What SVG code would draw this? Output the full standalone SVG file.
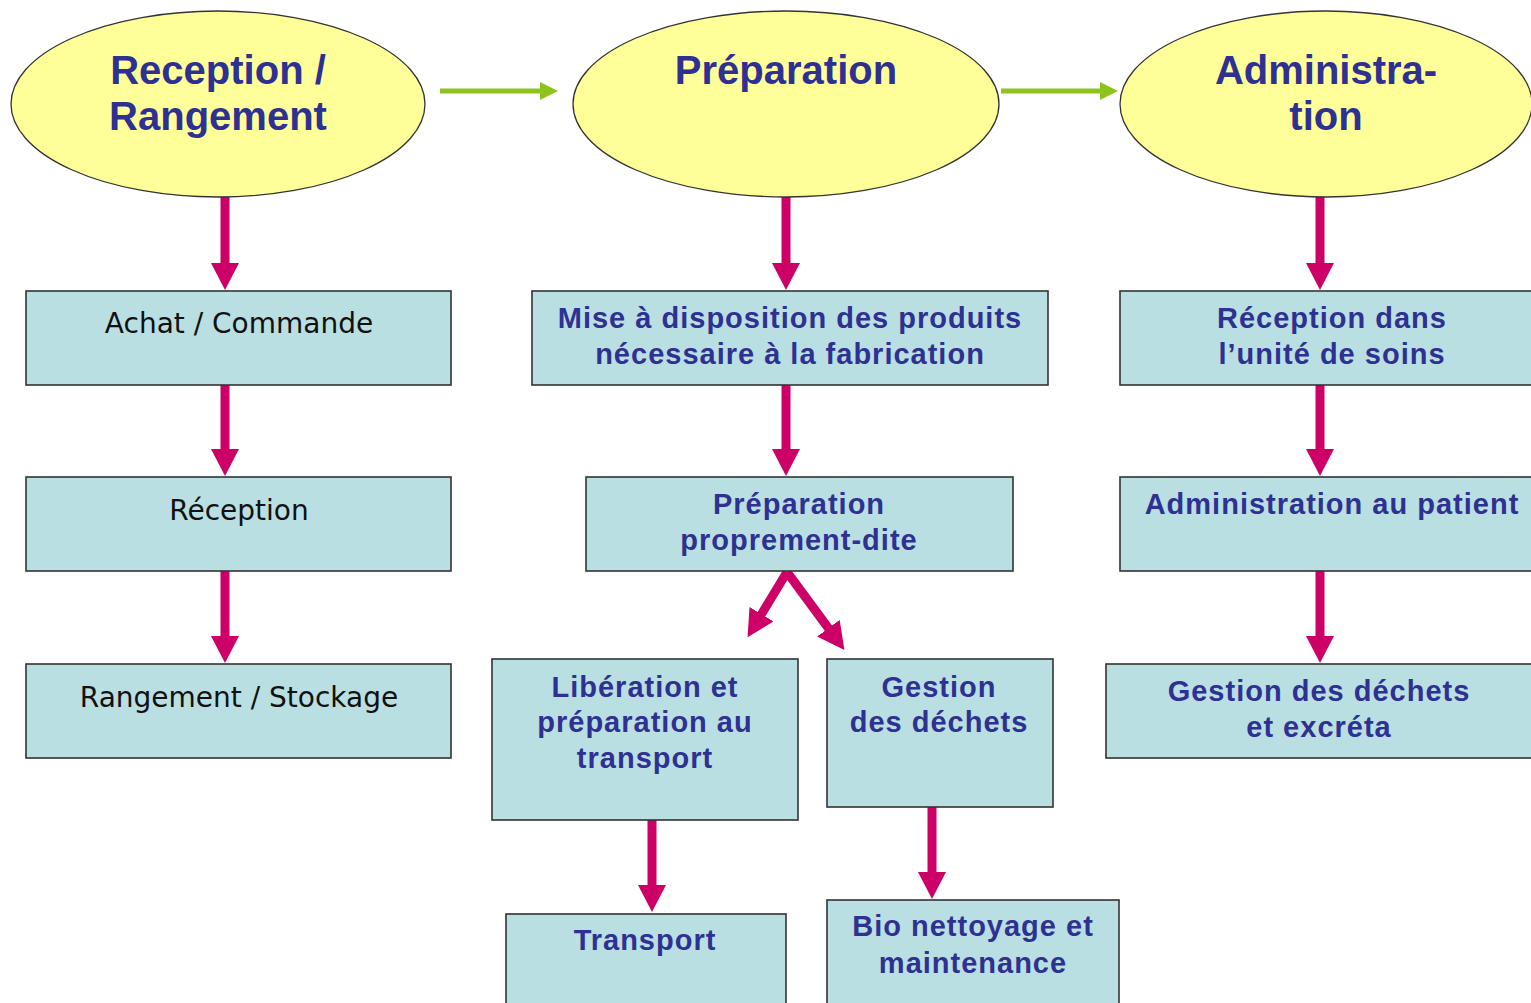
<svg xmlns="http://www.w3.org/2000/svg" width="1531" height="1003" viewBox="0 0 1531 1003">
<style>
.ell{fill:#ffff99;stroke:#333;stroke-width:1.3}
.box{fill:#b9dfe2;stroke:#333;stroke-width:1.6}
.t1{font-family:"Liberation Sans",Arial,sans-serif;font-weight:bold;font-size:40px;fill:#2e3192;text-anchor:middle}
.t2{font-family:"Liberation Sans",Arial,sans-serif;font-weight:bold;font-size:29px;letter-spacing:1px;fill:#2e3192;text-anchor:middle}
.t3{font-family:"DejaVu Sans",sans-serif;font-size:28px;fill:#111;text-anchor:middle}
.m{stroke:#cc0066;stroke-width:9;fill:none}
.g{stroke:#8cc41c;stroke-width:5;fill:none}
</style>
<defs>
<marker id="mh" markerUnits="userSpaceOnUse" markerWidth="30" markerHeight="30" refX="1" refY="14" orient="auto" viewBox="0 0 30 30">
<path d="M0,0 L27,14 L0,28 z" fill="#cc0066"/>
</marker>
<marker id="gh" markerUnits="userSpaceOnUse" markerWidth="20" markerHeight="20" refX="1" refY="9" orient="auto" viewBox="0 0 20 20">
<path d="M0,0 L18,9 L0,18 z" fill="#8cc41c"/>
</marker>
</defs>
<rect width="1531" height="1003" fill="#fff"/>
<g id="connectors">
<line class="g" x1="440" y1="91" x2="541" y2="91" marker-end="url(#gh)"/>
<line class="g" x1="1001" y1="91" x2="1101" y2="91" marker-end="url(#gh)"/>
<line class="m" x1="225" y1="197" x2="225" y2="264" marker-end="url(#mh)"/>
<line class="m" x1="225" y1="385" x2="225" y2="450" marker-end="url(#mh)"/>
<line class="m" x1="225" y1="571" x2="225" y2="637" marker-end="url(#mh)"/>
<line class="m" x1="786" y1="197" x2="786" y2="264" marker-end="url(#mh)"/>
<line class="m" x1="786" y1="385" x2="786" y2="450" marker-end="url(#mh)"/>
<line class="m" x1="787" y1="572" x2="761" y2="615" marker-end="url(#mh)"/>
<line class="m" x1="787" y1="572" x2="829" y2="629" marker-end="url(#mh)"/>
<line class="m" x1="652" y1="820" x2="652" y2="886" marker-end="url(#mh)"/>
<line class="m" x1="932" y1="807" x2="932" y2="873" marker-end="url(#mh)"/>
<line class="m" x1="1320" y1="197" x2="1320" y2="264" marker-end="url(#mh)"/>
<line class="m" x1="1320" y1="385" x2="1320" y2="450" marker-end="url(#mh)"/>
<line class="m" x1="1320" y1="571" x2="1320" y2="637" marker-end="url(#mh)"/>
</g>
<g id="n-reception-rangement">
<ellipse class="ell" cx="218" cy="104" rx="207" ry="93"/>
<text class="t1" x="218" y="84">Reception /</text>
<text class="t1" x="218" y="130">Rangement</text>
</g>
<g id="n-preparation">
<ellipse class="ell" cx="786" cy="104" rx="213" ry="93"/>
<text class="t1" x="786" y="84">Préparation</text>
</g>
<g id="n-administration">
<ellipse class="ell" cx="1326" cy="104" rx="206" ry="93"/>
<text class="t1" x="1326" y="84">Administra-</text>
<text class="t1" x="1326" y="130">tion</text>
</g>
<g id="n-achat">
<rect class="box" x="26" y="291" width="425" height="94"/>
<text class="t3" x="239" y="333">Achat / Commande</text>
</g>
<g id="n-reception">
<rect class="box" x="26" y="477" width="425" height="94"/>
<text class="t3" x="239" y="520">Réception</text>
</g>
<g id="n-rangement">
<rect class="box" x="26" y="664" width="425" height="94"/>
<text class="t3" x="239" y="707">Rangement / Stockage</text>
</g>
<g id="n-mise">
<rect class="box" x="532" y="291" width="516" height="94"/>
<text class="t2" x="790" y="328">Mise à disposition des produits</text>
<text class="t2" x="790" y="364">nécessaire à la fabrication</text>
</g>
<g id="n-prep-dite">
<rect class="box" x="586" y="477" width="427" height="94"/>
<text class="t2" x="799" y="514">Préparation</text>
<text class="t2" x="799" y="550">proprement-dite</text>
</g>
<g id="n-liberation">
<rect class="box" x="492" y="659" width="306" height="161"/>
<text class="t2" x="645" y="697">Libération et</text>
<text class="t2" x="645" y="732">préparation au</text>
<text class="t2" x="645" y="768">transport</text>
</g>
<g id="n-gestion-dechets">
<rect class="box" x="827" y="659" width="226" height="148"/>
<text class="t2" x="939" y="697">Gestion</text>
<text class="t2" x="939" y="732">des déchets</text>
</g>
<g id="n-transport">
<rect class="box" x="506" y="914" width="280" height="100"/>
<text class="t2" x="645" y="950">Transport</text>
</g>
<g id="n-bio">
<rect class="box" x="827" y="900" width="292" height="114"/>
<text class="t2" x="973" y="936">Bio nettoyage et</text>
<text class="t2" x="973" y="973">maintenance</text>
</g>
<g id="n-reception-unite">
<rect class="box" x="1120" y="291" width="420" height="94"/>
<text class="t2" x="1332" y="328">Réception dans</text>
<text class="t2" x="1332" y="364">l’unité de soins</text>
</g>
<g id="n-admin-patient">
<rect class="box" x="1120" y="477" width="420" height="94"/>
<text class="t2" x="1332" y="514">Administration au patient</text>
</g>
<g id="n-gestion-excreta">
<rect class="box" x="1106" y="664" width="434" height="94"/>
<text class="t2" x="1319" y="701">Gestion des déchets</text>
<text class="t2" x="1319" y="737">et excréta</text>
</g>
</svg>
